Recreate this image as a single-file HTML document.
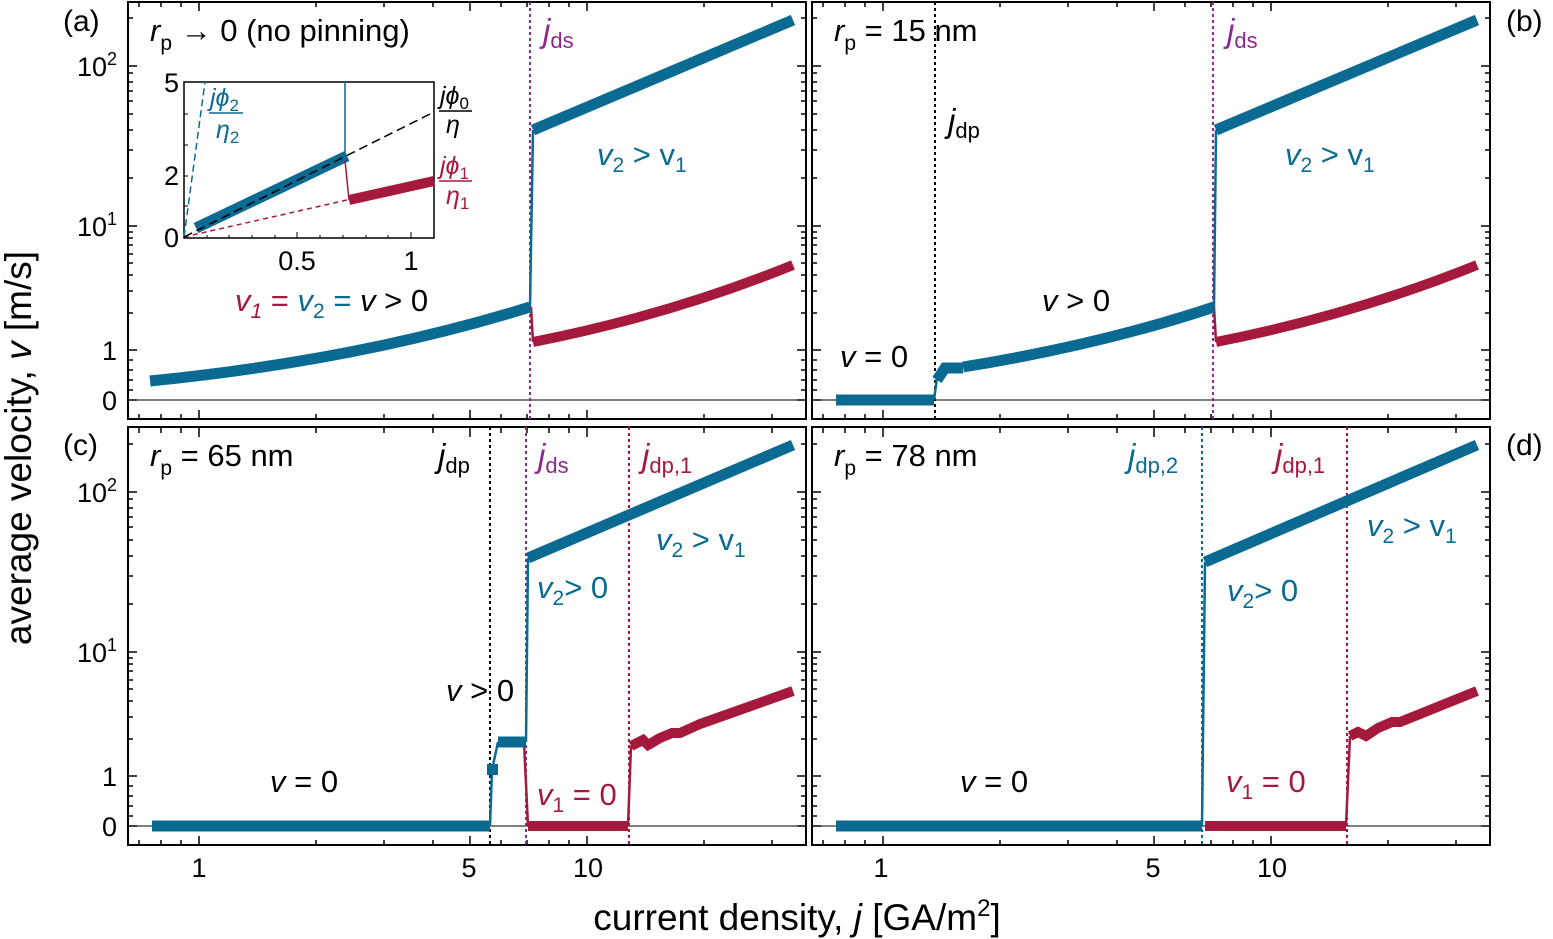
<!DOCTYPE html><html><head><meta charset="utf-8"><style>
body{margin:0;background:#fff}
svg{display:block;font-family:"Liberation Sans",sans-serif}
</style></head><body>
<svg width="1553" height="939" xmlns="http://www.w3.org/2000/svg" xmlns:xlink="http://www.w3.org/1999/xlink">
<defs>
<g id="tk" stroke="#000" stroke-width="1.5" fill="none">
<path d="M199,419v-9M470,419v-9M587,419v-9M199,2v9M470,2v9M587,2v9
M139,419v-5M161,419v-5M181,419v-5M316,419v-5M384,419v-5M433,419v-5M501,419v-5M527,419v-5M549,419v-5M569,419v-5M704,419v-5M772,419v-5
M139,2v5M161,2v5M181,2v5M316,2v5M384,2v5M433,2v5M501,2v5M527,2v5M549,2v5M569,2v5M704,2v5M772,2v5
M128,66h9M128,226h9M128,350h9M128,400h9M806,66h-9M806,226h-9M806,350h-9M806,400h-9
M128,313h5M128,291h5M128,275h5M128,263h5M128,254h5M128,245h5M128,238h5M128,232h5
M128,178h5M128,150h5M128,130h5M128,114h5M128,101h5M128,91h5M128,82h5M128,73h5M128,18h5
M128,390h5M128,380h5M128,370h5M128,360h5
M806,313h-5M806,291h-5M806,275h-5M806,263h-5M806,254h-5M806,245h-5M806,238h-5M806,232h-5
M806,178h-5M806,150h-5M806,130h-5M806,114h-5M806,101h-5M806,91h-5M806,82h-5M806,73h-5M806,18h-5
M806,390h-5M806,380h-5M806,370h-5M806,360h-5"/>
</g>
</defs>
<use xlink:href="#tk"/>
<use xlink:href="#tk" transform="translate(684,0)"/>
<use xlink:href="#tk" transform="translate(0,426)"/>
<use xlink:href="#tk" transform="translate(684,426)"/>
<g fill="none" stroke="#000" stroke-width="2">
<rect x="128" y="2" width="678" height="417"/>
<rect x="812" y="2" width="678" height="417"/>
<rect x="128" y="427" width="678" height="418"/>
<rect x="812" y="427" width="678" height="418"/>
</g>
<g stroke="#000" stroke-width="1">
<line x1="128" y1="400" x2="806" y2="400"/><line x1="812" y1="400" x2="1490" y2="400"/>
<line x1="128" y1="826" x2="806" y2="826"/><line x1="812" y1="826" x2="1490" y2="826"/>
</g>
<g stroke-width="2" stroke-dasharray="3,3">
<line x1="530" y1="2" x2="530" y2="419" stroke="#8b2a8b"/>
<line x1="935" y1="2" x2="935" y2="419" stroke="#000"/>
<line x1="1213" y1="2" x2="1213" y2="419" stroke="#8b2a8b"/>
<line x1="490" y1="427" x2="490" y2="845" stroke="#000"/>
<line x1="526" y1="427" x2="526" y2="845" stroke="#8b2a8b"/>
<line x1="629" y1="427" x2="629" y2="845" stroke="#a51a3c"/>
<line x1="1202" y1="427" x2="1202" y2="845" stroke="#0a6a92"/>
<line x1="1347" y1="427" x2="1347" y2="845" stroke="#a51a3c"/>
</g>
<g fill="none" stroke-linejoin="miter">
<polyline stroke="#a51a3c" stroke-width="2.5" points="531,307 533,342"/>
<path stroke="#a51a3c" stroke-width="10" d="M533,342 Q670,315 793,265"/>
<path stroke="#0a6a92" stroke-width="11" d="M150,381 Q360,360 530,307"/>
<polyline stroke="#0a6a92" stroke-width="2.5" points="530,307 533,130"/>
<polyline stroke="#0a6a92" stroke-width="11" points="533,130 793,20"/>
<polyline stroke="#a51a3c" stroke-width="2.5" points="1214,307 1216,342"/>
<path stroke="#a51a3c" stroke-width="10" d="M1216,342 Q1353,315 1477,265"/>
<polyline stroke="#0a6a92" stroke-width="11" points="836,400 934,400"/>
<polyline stroke="#0a6a92" stroke-width="2.5" points="934,400 937,378"/>
<polyline stroke="#0a6a92" stroke-width="11" points="937,380 945,368 963,368"/>
<path stroke="#0a6a92" stroke-width="11" d="M963,367 Q1100,345 1214,307"/>
<polyline stroke="#0a6a92" stroke-width="2.5" points="1214,307 1216,130"/>
<polyline stroke="#0a6a92" stroke-width="11" points="1216,130 1477,20"/>
<polyline stroke="#a51a3c" stroke-width="2.5" points="524,742 528,826"/>
<polyline stroke="#a51a3c" stroke-width="10" points="528,826 628,826"/>
<polyline stroke="#a51a3c" stroke-width="2.5" points="628,826 631,746"/>
<polyline stroke="#a51a3c" stroke-width="10" points="631,746 643,740 648,745 660,738 672,733 680,733 700,724 793,691"/>
<polyline stroke="#0a6a92" stroke-width="11" points="152,826 490,826"/>
<polyline stroke="#0a6a92" stroke-width="2.5" points="490,826 492,770 498,742"/>
<rect x="487" y="764" width="11" height="11" fill="#0a6a92"/>
<polyline stroke="#0a6a92" stroke-width="11" points="498,742 526,742"/>
<polyline stroke="#0a6a92" stroke-width="2.5" points="526,742 528,558"/>
<polyline stroke="#0a6a92" stroke-width="11" points="528,558 793,445"/>
<polyline stroke="#a51a3c" stroke-width="10" points="1205,826 1346,826"/>
<polyline stroke="#a51a3c" stroke-width="2.5" points="1346,826 1350,736"/>
<polyline stroke="#a51a3c" stroke-width="10" points="1350,736 1358,732 1366,736 1378,728 1392,722 1400,722 1420,714 1477,691"/>
<polyline stroke="#0a6a92" stroke-width="11" points="836,826 1202,826"/>
<polyline stroke="#0a6a92" stroke-width="2.5" points="1202,826 1205,562"/>
<polyline stroke="#0a6a92" stroke-width="11" points="1205,562 1477,445"/>
</g>
<rect x="184" y="82" width="250" height="156" fill="#fff" stroke="#000" stroke-width="1.5"/>
<path stroke="#000" stroke-width="1" d="M207,238v-3M229,238v-3M252,238v-3M275,238v-3M297,238v-6M320,238v-3M343,238v-3M366,238v-3M388,238v-3M411,238v-6M184,206h4M184,176h4M184,145h4M184,114h4"/>
<g fill="none">
<line x1="184" y1="237" x2="205" y2="82" stroke="#0a6a92" stroke-width="1.5" stroke-dasharray="7,4"/>
<line x1="184" y1="237" x2="347" y2="200" stroke="#a51a3c" stroke-width="1.5" stroke-dasharray="5,4"/>
<polyline stroke="#0a6a92" stroke-width="11" points="196,228 347,156"/>
<line x1="345" y1="156" x2="345" y2="82" stroke="#0a6a92" stroke-width="1.5"/>
<line x1="345" y1="160" x2="349" y2="200" stroke="#a51a3c" stroke-width="1.5"/>
<polyline stroke="#a51a3c" stroke-width="10" points="349,200 434,181"/>
<line x1="184" y1="237" x2="434" y2="112" stroke="#000" stroke-width="1.5" stroke-dasharray="9,5"/>
</g>
<g font-size="27" fill="#000">
<text x="179" y="92" text-anchor="end">5</text>
<text x="179" y="185" text-anchor="end">2</text>
<text x="179" y="247" text-anchor="end">0</text>
<text x="297" y="270" text-anchor="middle">0.5</text>
<text x="411" y="270" text-anchor="middle">1</text>
</g>
<g font-size="25">
<text x="210" y="106" fill="#0a6a92"><tspan font-style="italic">jϕ</tspan><tspan font-size="17" dy="5">2</tspan></text>
<line x1="209" y1="113" x2="243" y2="113" stroke="#0a6a92" stroke-width="1.5"/>
<text x="216" y="138" fill="#0a6a92"><tspan font-style="italic">η</tspan><tspan font-size="17" dy="5">2</tspan></text>
<text x="440" y="104" fill="#000"><tspan font-style="italic">jϕ</tspan><tspan font-size="17" dy="5">0</tspan></text>
<line x1="439" y1="111" x2="472" y2="111" stroke="#000" stroke-width="1.5"/>
<text x="446" y="133" fill="#000" font-style="italic">η</text>
<text x="440" y="174" fill="#a51a3c"><tspan font-style="italic">jϕ</tspan><tspan font-size="17" dy="5">1</tspan></text>
<line x1="439" y1="181" x2="472" y2="181" stroke="#a51a3c" stroke-width="1.5"/>
<text x="446" y="204" fill="#a51a3c"><tspan font-style="italic">η</tspan><tspan font-size="17" dy="5">1</tspan></text>
</g>
<g font-size="27" fill="#000">
<text x="117" y="76" text-anchor="end">10<tspan font-size="18" dy="-11">2</tspan></text>
<text x="117" y="236" text-anchor="end">10<tspan font-size="18" dy="-11">1</tspan></text>
<text x="117" y="360" text-anchor="end">1</text>
<text x="117" y="410" text-anchor="end">0</text>
<text x="117" y="502" text-anchor="end">10<tspan font-size="18" dy="-11">2</tspan></text>
<text x="117" y="662" text-anchor="end">10<tspan font-size="18" dy="-11">1</tspan></text>
<text x="117" y="786" text-anchor="end">1</text>
<text x="117" y="836" text-anchor="end">0</text>
<text x="199" y="877" text-anchor="middle">1</text>
<text x="469" y="877" text-anchor="middle">5</text>
<text x="588" y="877" text-anchor="middle">10</text>
<text x="881" y="877" text-anchor="middle">1</text>
<text x="1153" y="877" text-anchor="middle">5</text>
<text x="1272" y="877" text-anchor="middle">10</text>
</g>
<g font-size="30" fill="#000">
<text x="63" y="31">(a)</text>
<text x="1506" y="31">(b)</text>
<text x="63" y="455">(c)</text>
<text x="1506" y="455">(d)</text>
</g>
<text x="797" y="930" font-size="37" text-anchor="middle">current density, <tspan font-style="italic">j</tspan> [GA/m<tspan font-size="24" dy="-14">2</tspan><tspan dy="14">]</tspan></text>
<text transform="translate(31,448) rotate(-90)" font-size="37" text-anchor="middle">average velocity, <tspan font-style="italic">v</tspan> [m/s]</text>
<g font-size="31">
<text x="150" y="41"><tspan font-style="italic">r</tspan><tspan font-size="21" dy="9">p</tspan><tspan dy="-9"> → 0 (no pinning)</tspan></text>
<text x="834" y="41"><tspan font-style="italic">r</tspan><tspan font-size="21" dy="9">p</tspan><tspan dy="-9"> = 15 nm</tspan></text>
<text x="150" y="466"><tspan font-style="italic">r</tspan><tspan font-size="21" dy="9">p</tspan><tspan dy="-9"> = 65 nm</tspan></text>
<text x="834" y="466"><tspan font-style="italic">r</tspan><tspan font-size="21" dy="9">p</tspan><tspan dy="-9"> = 78 nm</tspan></text>
<text x="543" y="42" fill="#8b2a8b"><tspan font-style="italic" font-size="33">j</tspan><tspan font-size="22" dy="6">ds</tspan></text>
<text x="1227" y="42" fill="#8b2a8b"><tspan font-style="italic" font-size="33">j</tspan><tspan font-size="22" dy="6">ds</tspan></text>
<text x="538" y="467" fill="#8b2a8b"><tspan font-style="italic" font-size="33">j</tspan><tspan font-size="22" dy="6">ds</tspan></text>
<text x="948" y="132"><tspan font-style="italic" font-size="33">j</tspan><tspan font-size="22" dy="6">dp</tspan></text>
<text x="438" y="467"><tspan font-style="italic" font-size="33">j</tspan><tspan font-size="22" dy="6">dp</tspan></text>
<text x="642" y="467" fill="#a51a3c"><tspan font-style="italic" font-size="33">j</tspan><tspan font-size="22" dy="6">dp,1</tspan></text>
<text x="1275" y="467" fill="#a51a3c"><tspan font-style="italic" font-size="33">j</tspan><tspan font-size="22" dy="6">dp,1</tspan></text>
<text x="1128" y="467" fill="#0a6a92"><tspan font-style="italic" font-size="33">j</tspan><tspan font-size="22" dy="6">dp,2</tspan></text>
<text x="597" y="165" fill="#0a6a92"><tspan font-style="italic">v</tspan><tspan font-size="21" dy="7">2</tspan><tspan dy="-7"> &gt; v</tspan><tspan font-size="21" dy="7">1</tspan></text>
<text x="1285" y="165" fill="#0a6a92"><tspan font-style="italic">v</tspan><tspan font-size="21" dy="7">2</tspan><tspan dy="-7"> &gt; v</tspan><tspan font-size="21" dy="7">1</tspan></text>
<text x="656" y="550" fill="#0a6a92"><tspan font-style="italic">v</tspan><tspan font-size="21" dy="7">2</tspan><tspan dy="-7"> &gt; v</tspan><tspan font-size="21" dy="7">1</tspan></text>
<text x="1367" y="536" fill="#0a6a92"><tspan font-style="italic">v</tspan><tspan font-size="21" dy="7">2</tspan><tspan dy="-7"> &gt; v</tspan><tspan font-size="21" dy="7">1</tspan></text>
<text x="537" y="598" fill="#0a6a92"><tspan font-style="italic">v</tspan><tspan font-size="21" dy="7">2</tspan><tspan dy="-7">&gt; 0</tspan></text>
<text x="1227" y="601" fill="#0a6a92"><tspan font-style="italic">v</tspan><tspan font-size="21" dy="7">2</tspan><tspan dy="-7">&gt; 0</tspan></text>
<text x="235" y="311"><tspan fill="#a51a3c" font-style="italic">v</tspan><tspan fill="#a51a3c" font-style="italic" font-size="21" dy="7">1</tspan><tspan dy="-7" fill="#a51a3c"> = </tspan><tspan fill="#0a6a92" font-style="italic">v</tspan><tspan fill="#0a6a92" font-size="21" dy="7">2</tspan><tspan dy="-7" fill="#0a6a92"> = </tspan><tspan font-style="italic">v</tspan> &gt; 0</text>
<text x="1042" y="311"><tspan font-style="italic">v</tspan> &gt; 0</text>
<text x="840" y="367"><tspan font-style="italic">v</tspan> = 0</text>
<text x="270" y="792"><tspan font-style="italic">v</tspan> = 0</text>
<text x="960" y="792"><tspan font-style="italic">v</tspan> = 0</text>
<text x="446" y="701"><tspan font-style="italic">v</tspan> &gt; 0</text>
<text x="537" y="805" fill="#a51a3c"><tspan font-style="italic">v</tspan><tspan font-size="21" dy="7">1</tspan><tspan dy="-7"> = 0</tspan></text>
<text x="1226" y="792" fill="#a51a3c"><tspan font-style="italic">v</tspan><tspan font-size="21" dy="7">1</tspan><tspan dy="-7"> = 0</tspan></text>
</g>
</svg>
</body></html>
